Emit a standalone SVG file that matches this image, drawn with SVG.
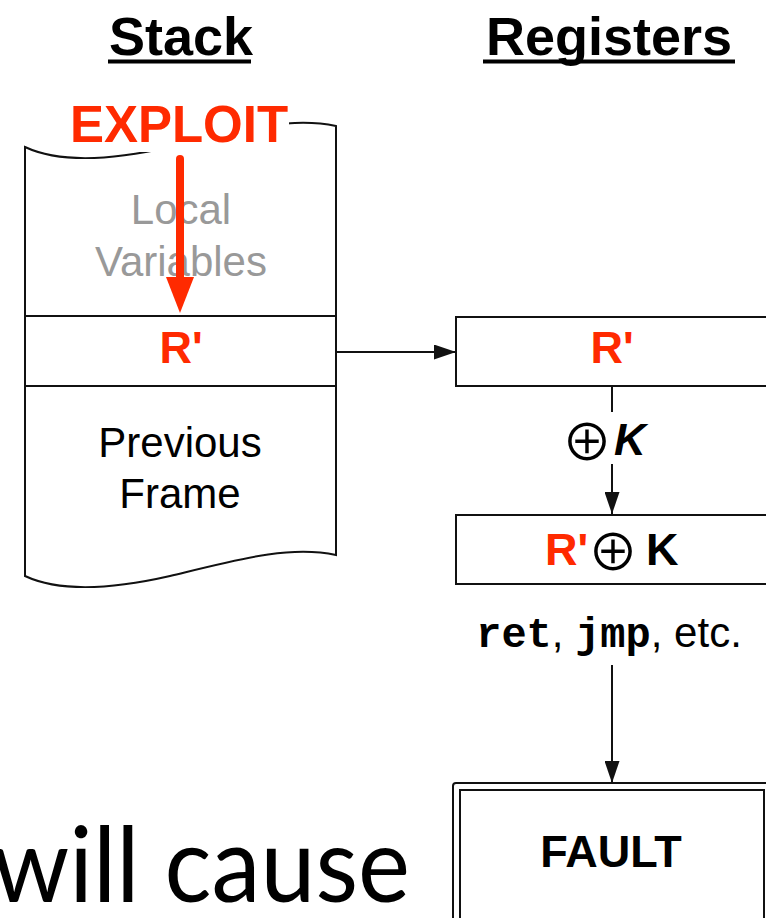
<svg xmlns="http://www.w3.org/2000/svg" width="766" height="918" viewBox="0 0 766 918">
  <style>
    .sans { font-family: "Liberation Sans", Arial, Helvetica, sans-serif; }
    .bold { font-weight: bold; }
    .title { font-size: 54px; font-weight: bold; text-anchor: middle; }
    .red { fill: #ff2a00; }
    .gray { fill: #999999; }
    .mid { text-anchor: middle; }
    .box { fill: #ffffff; stroke: #111111; stroke-width: 2; }
    .edge { stroke: #111111; stroke-width: 2; fill: none; }
    .sym { font-family: "Noto Sans CJK SC", "DejaVu Sans", sans-serif; font-size: 51px; text-anchor: middle; }
    .mono { font-family: "Liberation Mono", "Courier New", monospace; font-weight: bold; }
  </style>
  <defs>
    <marker id="arrow" viewBox="0 0 22 15" refX="22" refY="7.5" markerWidth="22" markerHeight="15" markerUnits="userSpaceOnUse" orient="auto">
      <path d="M0,0 L22,7.5 L0,15 Z" fill="#111111"/>
    </marker>
  </defs>

  <rect width="766" height="918" fill="#ffffff"/>

  <!-- column titles -->
  <g id="title-stack" class="sans">
    <text x="181" y="55" class="title">Stack</text>
    <rect x="108" y="59.5" width="143" height="4" fill="#000000"/>
  </g>
  <g id="title-registers" class="sans">
    <text x="609" y="55" class="title">Registers</text>
    <rect x="483" y="59.5" width="252" height="4" fill="#000000"/>
  </g>

  <!-- stack: torn-paper outline with three slots -->
  <g id="stack">
    <path class="edge" d="M25,147 C55,161 100,163 170,147 C240,130 290,116 336,126 L336,555 C290,545 240,559 170,576 C100,592 55,590 25,576 Z" fill="#ffffff"/>
    <line class="edge" x1="25" y1="316" x2="336" y2="316"/>
    <line class="edge" x1="25" y1="386" x2="336" y2="386"/>
    <text class="sans gray mid" x="181" y="224" font-size="42">Local</text>
    <text class="sans gray mid" x="181" y="276" font-size="42">Variables</text>
    <text class="sans bold red mid" x="181" y="363" font-size="45">R'</text>
    <text class="sans mid" x="180" y="457" font-size="42">Previous</text>
    <text class="sans mid" x="180" y="508" font-size="42">Frame</text>
  </g>

  <!-- exploit overwriting the return slot -->
  <g id="exploit">
    <rect x="66" y="100" width="223" height="52" fill="#ffffff"/>
    <text class="sans bold red mid" x="179" y="142" font-size="51">EXPLOIT</text>
    <line x1="180" y1="159" x2="180" y2="282" stroke="#ff2a00" stroke-width="8" stroke-linecap="round"/>
    <path d="M166,277 L194,277 L180,313 Z" fill="#ff2a00"/>
  </g>

  <!-- registers -->
  <g id="reg-loaded">
    <rect class="box" x="456" y="317" width="314" height="69"/>
    <text class="sans bold red mid" x="612" y="363" font-size="45">R'</text>
  </g>
  <g id="reg-decoded">
    <rect class="box" x="456" y="515" width="314" height="69"/>
    <text class="sans bold red" x="545" y="565" font-size="45">R'</text>
    <text class="sym" x="613" y="571">⊕</text>
    <text class="sans bold" x="646" y="565" font-size="45">K</text>
  </g>
  <g id="fault">
    <rect x="453" y="783" width="320" height="200" rx="3" fill="#ffffff" stroke="#111111" stroke-width="2"/>
    <rect x="460" y="790" width="304" height="200" fill="none" stroke="#111111" stroke-width="2"/>
    <text class="sans bold mid" x="611" y="867" font-size="45">FAULT</text>
  </g>

  <!-- connectors -->
  <g id="connectors">
    <line class="edge" x1="336" y1="352" x2="456" y2="352" marker-end="url(#arrow)"/>
    <line class="edge" x1="612" y1="386" x2="612" y2="412"/>
    <line class="edge" x1="612" y1="464" x2="612" y2="514" marker-end="url(#arrow)"/>
    <line class="edge" x1="612" y1="665" x2="612" y2="783" marker-end="url(#arrow)"/>
    <text class="sym" x="587" y="461">⊕</text>
    <text class="sans bold" x="614" y="455" font-size="44" font-style="italic">K</text>
    <text class="sans mid" x="609" y="647" font-size="42"><tspan class="mono">ret</tspan>, <tspan class="mono">jmp</tspan>, etc.</text>
  </g>

  <!-- slide caption, partly visible -->
  <text x="-8" y="902" font-family="Lato, 'Open Sans', sans-serif" font-size="104" fill="#000000" textLength="418" lengthAdjust="spacingAndGlyphs">will cause</text>
</svg>
